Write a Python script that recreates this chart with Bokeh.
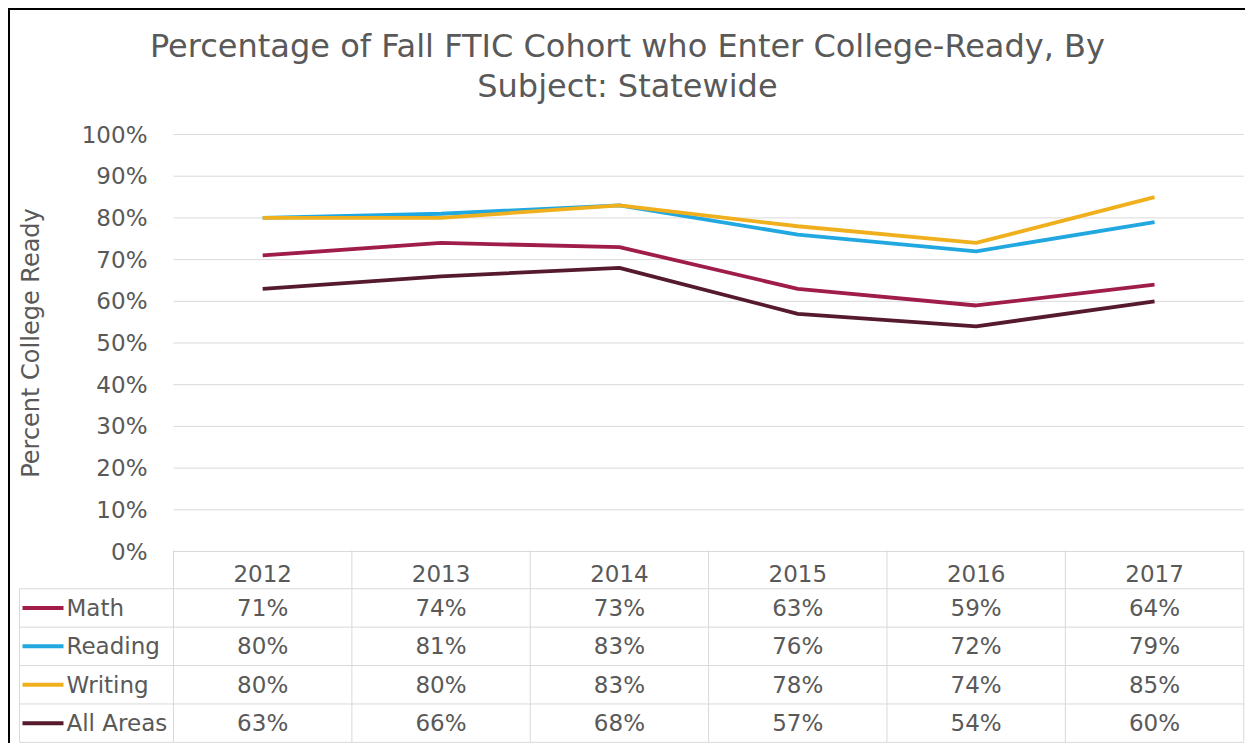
import math as m
from bokeh.plotting import figure
from bokeh.models import Range1d, FixedTicker, Label
from bokeh.layouts import column
from bokeh.embed import file_html
from bokeh.resources import INLINE
from bokeh.core.properties import value

# ---------------- data ----------------
years = ["2012", "2013", "2014", "2015", "2016", "2017"]
math_vals = [71, 74, 73, 63, 59, 64]
reading_vals = [80, 81, 83, 76, 72, 79]
writing_vals = [80, 80, 83, 78, 74, 85]
all_areas_vals = [63, 66, 68, 57, 54, 60]
series_names = ["Math", "Reading", "Writing", "All Areas"]
series_colors = ["#A01C4B", "#22A8E0", "#F0B01E", "#561A2D"]
y_ticks = [0, 10, 20, 30, 40, 50, 60, 70, 80, 90, 100]
title_lines = ["Percentage of Fall FTIC Cohort who Enter College-Ready, By",
               "Subject: Statewide"]
y_label = "Percent College Ready"

series_vals = [math_vals, reading_vals, writing_vals, all_areas_vals]

# ---------------- layout / styling ----------------
FONT = "DejaVu Sans"
TXT = "#595959"
GRID = "#D9D9D9"
W, H = 1235, 733
n = len(years)
nr = len(series_names)
xs = [i + 0.5 for i in range(n)]
bounds = list(range(n + 1))

X_START, X_END = -0.9138, n + 0.01      # table/plot columns: 0..n
Y_START, Y_END = -46.04, 129.74         # percent axis (0 at row-0 top)
ROWS_START = nr + 1 + 0.03              # row axis for the data table
ROWS_END = ROWS_START - H / 38.4
T_LEFT = -0.8634

p = figure(width=W, height=H, x_range=Range1d(X_START, X_END),
           y_range=Range1d(Y_START, Y_END), output_backend="svg",
           toolbar_location=None, min_border=0)
p.extra_y_ranges = {"rows": Range1d(ROWS_START, ROWS_END)}
p.outline_line_color = None
p.grid.visible = False

# y axis drawn at the left edge of the plotting columns
p.yaxis.fixed_location = 0
p.yaxis.ticker = FixedTicker(ticks=y_ticks)
p.yaxis.major_label_overrides = {t: f"{t}%" for t in y_ticks}
p.yaxis.axis_line_color = None
p.yaxis.major_tick_line_color = None
p.yaxis.minor_tick_line_color = None
p.yaxis.major_label_standoff = 20
p.yaxis.major_label_text_font = FONT
p.yaxis.major_label_text_font_size = "23px"
p.yaxis.major_label_text_color = TXT

# x axis: year labels inside the header row of the table
p.xaxis.fixed_location = 0
p.xaxis.ticker = FixedTicker(ticks=xs)
p.xaxis.major_label_overrides = {x: y for x, y in zip(xs, years)}
p.xaxis.axis_line_color = None
p.xaxis.major_tick_line_color = None
p.xaxis.minor_tick_line_color = None
p.xaxis.major_label_standoff = 7
p.xaxis.major_label_text_font = FONT
p.xaxis.major_label_text_font_size = "23px"
p.xaxis.major_label_text_color = TXT

# horizontal gridlines over the plotting columns
p.segment(x0=[0] * len(y_ticks), x1=[n] * len(y_ticks), y0=y_ticks, y1=y_ticks,
          line_color=GRID, line_width=1)

# data table grid
rows = list(range(1, nr + 2))
p.segment(x0=[T_LEFT] * len(rows), x1=[n] * len(rows), y0=rows, y1=rows,
          line_color=GRID, line_width=1, y_range_name="rows")
p.segment(x0=bounds, x1=bounds, y0=[0] * len(bounds), y1=[nr + 1] * len(bounds),
          line_color=GRID, line_width=1, y_range_name="rows")
p.segment(x0=[T_LEFT], x1=[T_LEFT], y0=[1], y1=[nr + 1],
          line_color=GRID, line_width=1, y_range_name="rows")

# series lines
for vals, col in zip(series_vals, series_colors):
    p.line(x=xs, y=vals, line_color=col, line_width=3.8)

# table: legend keys, names, values
ry = [r + 1.5 for r in range(nr)]
p.segment(x0=[-0.8466] * nr, x1=[-0.6167] * nr, y0=ry, y1=ry,
          line_color=series_colors, line_width=4, y_range_name="rows")
p.text(x=[-0.600] * nr, y=ry, text=series_names, text_align="left",
       text_baseline="middle", text_font=value(FONT), text_font_size="23px",
       text_color=TXT, y_range_name="rows")
cx, cy, ct = [], [], []
for r, vals in enumerate(series_vals):
    for i, v in enumerate(vals):
        cx.append(xs[i])
        cy.append(ry[r])
        ct.append(f"{v}%")
p.text(x=cx, y=cy, text=ct, text_align="center", text_baseline="middle",
       text_font=value(FONT), text_font_size="23px", text_color=TXT,
       y_range_name="rows")

# title and axis title
for txt, yy in zip(title_lines, [121.3, 111.75]):
    p.add_layout(Label(x=2.545, y=yy, text=txt, text_align="center",
                       text_baseline="middle", text_font=FONT,
                       text_font_size="32px", text_color=TXT))
p.add_layout(Label(x=-0.80, y=50, text=y_label, angle=m.pi / 2,
                   text_align="center", text_baseline="middle",
                   text_font=FONT, text_font_size="24px", text_color=TXT))

layout = column(p, styles={"margin-left": "8px", "margin-top": "8px",
                           "border-top": "2px solid black",
                           "border-left": "2px solid black"})

open("out.html", "w").write(file_html(layout, INLINE))
